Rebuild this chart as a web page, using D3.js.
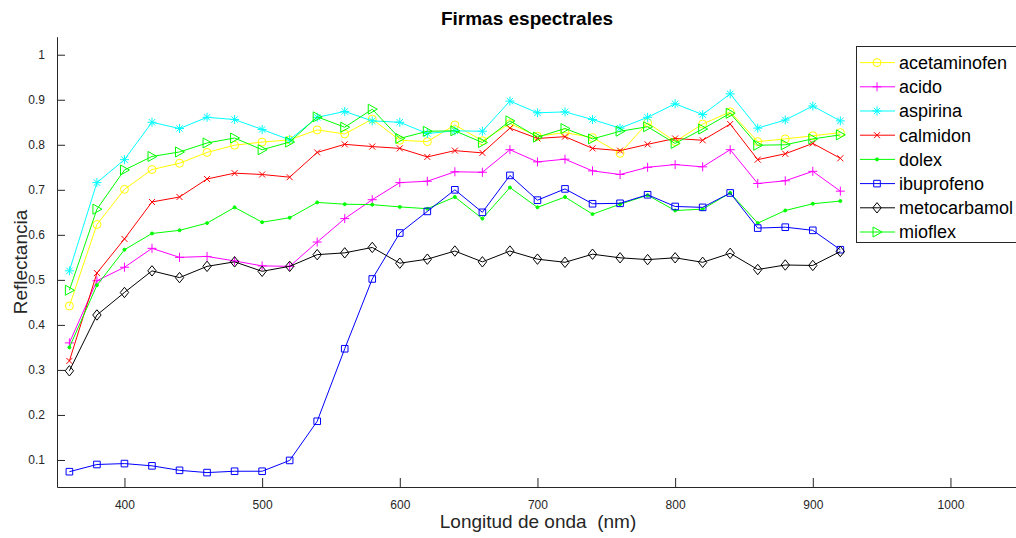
<!DOCTYPE html>
<html>
<head>
<meta charset="utf-8">
<script src="https://cdn.jsdelivr.net/npm/d3@7"></script>
<style>
  html, body { margin: 0; padding: 0; background: #fff; overflow: hidden; }
  svg { display: block; font-family: "Liberation Sans", Arial, Helvetica, sans-serif; }
</style>
</head>
<body>
<svg id="chart" width="1016" height="538"></svg>
<script>
// longitudes de onda (nm)
const wavelengths = [360, 380, 400, 420, 440, 460, 480, 500, 520, 540, 560, 580, 600, 620, 640,
  660, 680, 700, 720, 740, 760, 780, 800, 820, 840, 860, 880, 900, 920];

const acetaminofen = [0.442, 0.623, 0.701, 0.745, 0.759, 0.783, 0.799, 0.806, 0.811, 0.833, 0.824, 0.857, 0.810, 0.807, 0.844,
  0.809, 0.847, 0.819, 0.827, 0.816, 0.781, 0.849, 0.807, 0.846, 0.873, 0.807, 0.813, 0.820, 0.827];
const acido = [0.360, 0.498, 0.528, 0.570, 0.550, 0.552, 0.542, 0.531, 0.530, 0.584, 0.636, 0.678, 0.716, 0.719, 0.740,
  0.739, 0.789, 0.762, 0.768, 0.742, 0.734, 0.750, 0.756, 0.751, 0.789, 0.714, 0.720, 0.741, 0.697];
const aspirina = [0.520, 0.716, 0.767, 0.850, 0.836, 0.861, 0.856, 0.834, 0.811, 0.861, 0.874, 0.853, 0.850, 0.825, 0.831,
  0.830, 0.897, 0.871, 0.873, 0.856, 0.837, 0.861, 0.891, 0.867, 0.913, 0.837, 0.855, 0.886, 0.853];
const calmidon = [0.320, 0.515, 0.591, 0.673, 0.684, 0.724, 0.737, 0.734, 0.728, 0.783, 0.801, 0.796, 0.792, 0.773, 0.787,
  0.782, 0.837, 0.814, 0.818, 0.792, 0.787, 0.801, 0.814, 0.810, 0.846, 0.767, 0.780, 0.803, 0.770];
const dolex = [0.350, 0.488, 0.567, 0.603, 0.610, 0.626, 0.661, 0.628, 0.638, 0.672, 0.668, 0.667, 0.662, 0.658, 0.684,
  0.636, 0.705, 0.661, 0.684, 0.646, 0.668, 0.688, 0.654, 0.657, 0.693, 0.626, 0.654, 0.669, 0.675];
const ibuprofeno = [0.074, 0.090, 0.092, 0.087, 0.077, 0.072, 0.075, 0.075, 0.099, 0.186, 0.347, 0.502, 0.604, 0.652, 0.700,
  0.650, 0.732, 0.677, 0.702, 0.669, 0.670, 0.689, 0.663, 0.661, 0.693, 0.615, 0.617, 0.610, 0.567];
const metocarbamol = [0.298, 0.422, 0.472, 0.520, 0.505, 0.530, 0.540, 0.519, 0.530, 0.556, 0.560, 0.572, 0.537, 0.546, 0.564,
  0.540, 0.564, 0.546, 0.539, 0.557, 0.549, 0.545, 0.549, 0.539, 0.559, 0.523, 0.533, 0.532, 0.563];
const mioflex = [0.477, 0.657, 0.744, 0.774, 0.784, 0.804, 0.815, 0.789, 0.806, 0.862, 0.839, 0.879, 0.814, 0.830, 0.831,
  0.805, 0.853, 0.817, 0.836, 0.813, 0.830, 0.840, 0.803, 0.835, 0.870, 0.799, 0.800, 0.813, 0.822];

const xTicks = [400, 500, 600, 700, 800, 900, 1000];
const yTicks = [0.1, 0.2, 0.3, 0.4, 0.5, 0.6, 0.7, 0.8, 0.9, 1];

const series = [
  { name: "acetaminofen", values: acetaminofen, color: "#ffff00", marker: "o" },
  { name: "acido", values: acido, color: "#ff00ff", marker: "+" },
  { name: "aspirina", values: aspirina, color: "#00ffff", marker: "*" },
  { name: "calmidon", values: calmidon, color: "#ff0000", marker: "x" },
  { name: "dolex", values: dolex, color: "#00ff00", marker: "." },
  { name: "ibuprofeno", values: ibuprofeno, color: "#0000ff", marker: "s" },
  { name: "metocarbamol", values: metocarbamol, color: "#000000", marker: "d" },
  { name: "mioflex", values: mioflex, color: "#00ff00", marker: ">" }
];

const axisColor = "#262626";
const svg = d3.select("#chart");

// escalas (el eje derecho queda recortado, como en la figura)
const x = d3.scaleLinear().domain([351, 1050]).range([57, 1019.3]);
const y = d3.scaleLinear().domain([0.04, 1.04]).range([487, 36.7]);

// titulo y etiquetas
svg.append("text")
  .attr("x", 527).attr("y", 25)
  .attr("text-anchor", "middle")
  .style("font-size", "19px").style("font-weight", "bold")
  .attr("fill", "#000")
  .text("Firmas espectrales");

svg.append("text")
  .attr("x", 538).attr("y", 528)
  .attr("text-anchor", "middle")
  .style("font-size", "19px")
  .style("white-space", "pre")
  .attr("fill", axisColor)
  .text("Longitud de onda  (nm)");

svg.append("text")
  .attr("transform", "translate(27, 262) rotate(-90)")
  .attr("text-anchor", "middle")
  .style("font-size", "19px")
  .attr("fill", axisColor)
  .text("Reflectancia");

// ejes
const xAxis = svg.append("g")
  .attr("transform", `translate(0, ${y.range()[0]})`)
  .call(d3.axisBottom(x).tickValues(xTicks).tickSizeInner(-9).tickSizeOuter(0).tickPadding(13).tickFormat(d3.format("d")));

const yAxis = svg.append("g")
  .attr("transform", `translate(${x.range()[0]}, 0)`)
  .call(d3.axisLeft(y).tickValues(yTicks).tickSizeInner(-8).tickSizeOuter(0).tickPadding(12).tickFormat(d => d === 1 ? "1" : d3.format(".1f")(d)));

[xAxis, yAxis].forEach(g => {
  g.select(".domain").attr("stroke", axisColor).attr("stroke-width", 1);
  g.selectAll(".tick line").attr("stroke", axisColor);
  g.selectAll(".tick text").attr("fill", axisColor).style("font-size", "12px")
    .style("font-family", "\"Liberation Sans\", Arial, sans-serif");
});

// marcadores estilo MATLAB
function markerPath(m) {
  switch (m) {
    case "o": return d3.symbol(d3.symbolCircle, 50)();
    case "+": return "M-4.5,0H4.5M0,-4.5V4.5";
    case "*": return "M-4.5,0H4.5M0,-4.5V4.5M-3.2,-3.2L3.2,3.2M-3.2,3.2L3.2,-3.2";
    case "x": return "M-3,-3L3,3M-3,3L3,-3";
    case ".": return d3.symbol(d3.symbolCircle, 7)();
    case "s": return "M-3.3,-3.3H3.3V3.3H-3.3Z";
    case "d": return "M0,-5.2L4.2,0L0,5.2L-4.2,0Z";
    case ">": return "M-4,-5L5,0L-4,5Z";
  }
}

const line = d3.line()
  .x((d, i) => x(wavelengths[i]))
  .y(d => y(d));

const plot = svg.append("g");

series.forEach(s => {
  const g = plot.append("g");
  g.append("path")
    .datum(s.values)
    .attr("d", line)
    .attr("fill", "none")
    .attr("stroke", s.color)
    .attr("stroke-width", 1);
  g.selectAll("path.mk")
    .data(s.values)
    .enter()
    .append("path")
    .classed("mk", true)
    .attr("transform", (d, i) => `translate(${x(wavelengths[i])}, ${y(d)})`)
    .attr("d", markerPath(s.marker))
    .attr("fill", s.marker === "." ? s.color : "none")
    .attr("stroke", s.color)
    .attr("stroke-width", 1);
});

// leyenda
const legend = svg.append("g").attr("transform", "translate(856, 46)");
legend.append("rect")
  .attr("x", 0.5).attr("y", 0.5)
  .attr("width", 200).attr("height", 196)
  .attr("fill", "#fff")
  .attr("stroke", axisColor)
  .attr("stroke-width", 1);

const items = legend.selectAll(".legend-item")
  .data(series)
  .enter()
  .append("g")
  .classed("legend-item", true)
  .attr("transform", (d, i) => `translate(0, ${16.6 + i * 24.2})`);

items.append("line")
  .attr("x1", 4).attr("x2", 39)
  .attr("stroke", d => d.color)
  .attr("stroke-width", 1);

items.append("path")
  .attr("transform", "translate(21, 0)")
  .attr("d", d => markerPath(d.marker))
  .attr("fill", d => d.marker === "." ? d.color : "none")
  .attr("stroke", d => d.color);

items.append("text")
  .attr("x", 43)
  .attr("dy", "0.35em")
  .style("font-size", "18px")
  .attr("fill", "#000")
  .text(d => d.name);
</script>
</body>
</html>
